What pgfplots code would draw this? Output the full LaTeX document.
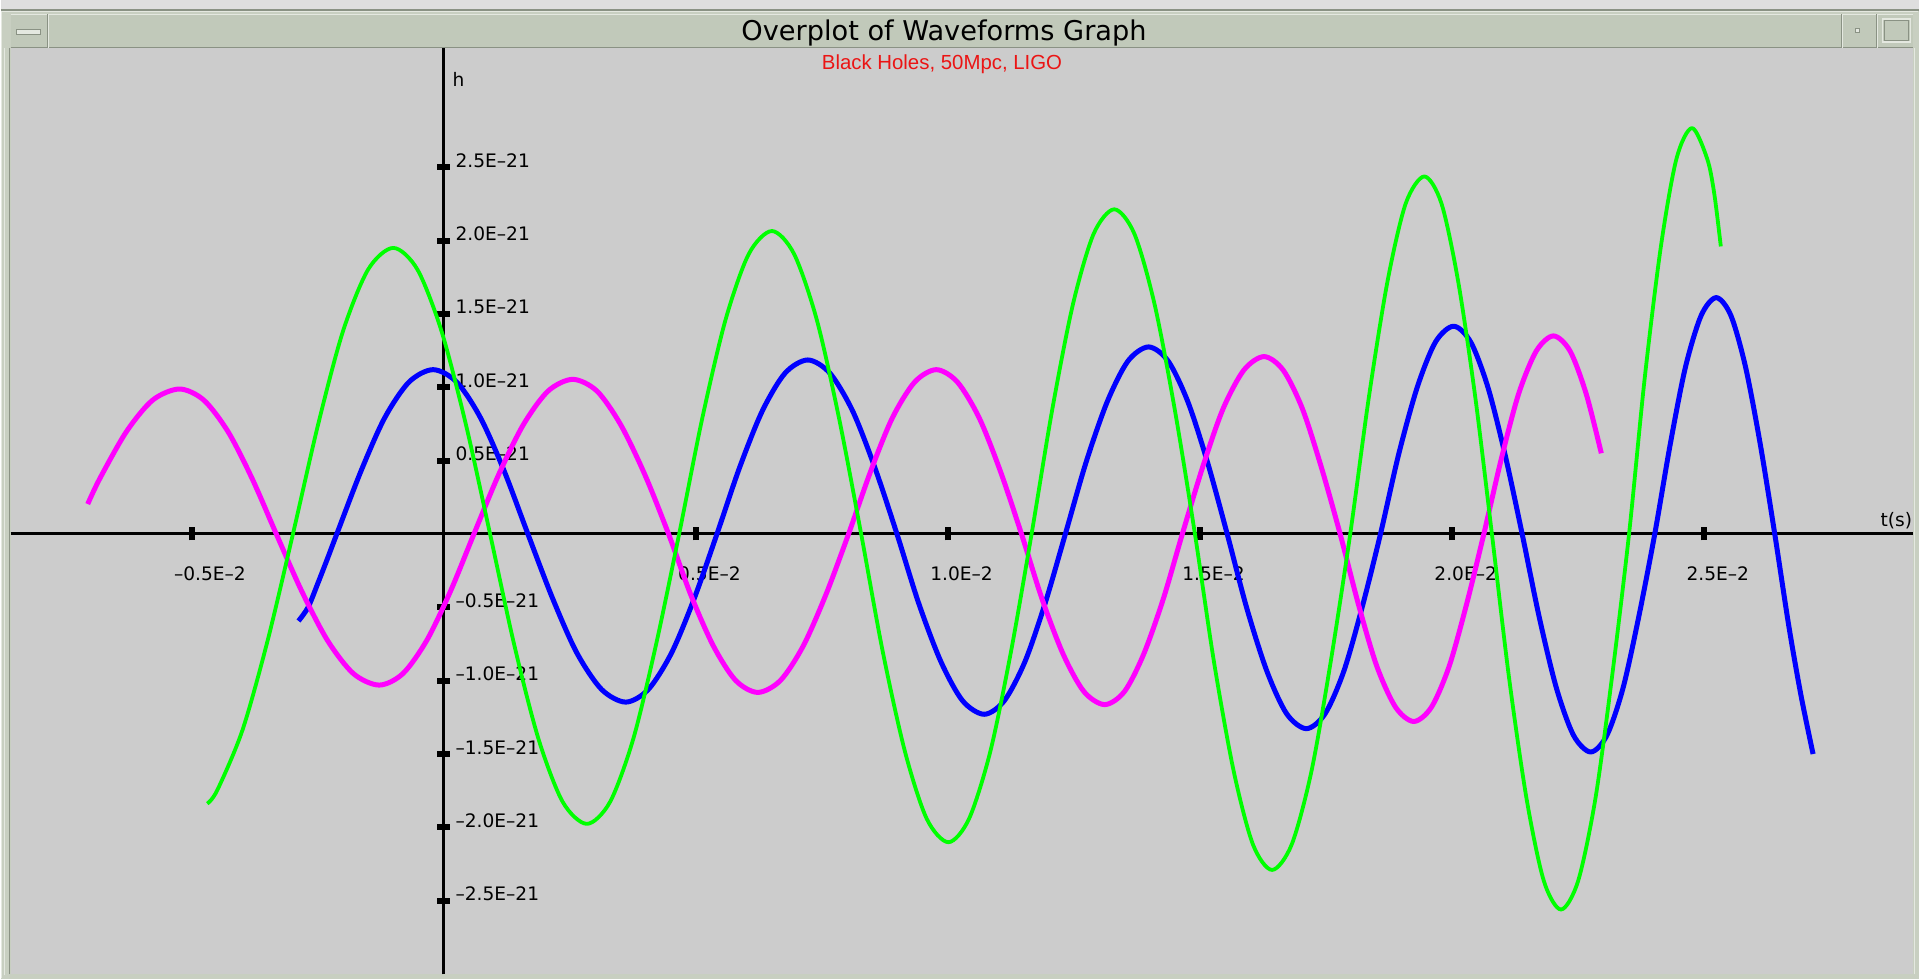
\documentclass[border=0pt]{standalone}
\usepackage{pgfplots}
\pgfplotsset{compat=1.18}
\usepackage{fontspec}
\setmainfont{DejaVu Sans}
\newfontfamily\subfont{Liberation Sans}
\definecolor{plotbg}{RGB}{204,204,204}
\definecolor{titlebg}{RGB}{193,201,186}
\definecolor{framebg}{RGB}{200,207,193}
\definecolor{framedark}{RGB}{138,146,132}
\definecolor{framelight}{RGB}{228,232,224}
\definecolor{topstrip}{RGB}{222,222,222}
\definecolor{wgreen}{RGB}{0,255,0}
\definecolor{wblue}{RGB}{0,0,255}
\definecolor{wmag}{RGB}{255,0,255}
\definecolor{subred}{RGB}{235,20,20}
\begin{document}
\begin{tikzpicture}
% ---------- window frame (picture is 960pt x 490pt) ----------
\fill[topstrip] (0pt,0pt) rectangle (960pt,490pt);
\fill[framebg] (0pt,0pt) rectangle (960pt,485pt);
\draw[framelight, line width=0.8pt] (0.5pt,0.5pt) -- (0.5pt,484.5pt) -- (959.5pt,484.5pt);
\draw[framedark, line width=0.6pt] (0pt,485pt) -- (960pt,485pt);
% title bar
\fill[titlebg] (5pt,466pt) rectangle (957pt,483pt);
\draw[framedark, line width=0.6pt] (5pt,466.3pt) -- (957pt,466.3pt);
\draw[framelight, line width=0.6pt] (5pt,482.8pt) -- (957pt,482.8pt);
% left button
\draw[framedark, line width=0.5pt] (23.5pt,466pt) -- (23.5pt,483pt);
\draw[framelight, line width=0.5pt] (24.2pt,466pt) -- (24.2pt,483pt);
\fill[framelight] (8pt,473pt) rectangle (20pt,475.5pt);
\draw[framedark, line width=0.4pt] (8pt,473pt) rectangle (20pt,475.5pt);
% right buttons
\draw[framedark, line width=0.5pt] (921pt,466pt) -- (921pt,483pt);
\draw[framelight, line width=0.5pt] (921.7pt,466pt) -- (921.7pt,483pt);
\draw[framedark, line width=0.5pt] (938.5pt,466pt) -- (938.5pt,483pt);
\draw[framelight, line width=0.5pt] (939.2pt,466pt) -- (939.2pt,483pt);
\fill[framelight] (928pt,474pt) rectangle (930pt,476pt);
\draw[framedark, line width=0.4pt] (928pt,474pt) rectangle (930pt,476pt);
\draw[framelight, line width=0.6pt] (941.5pt,469pt) rectangle (955.5pt,480.5pt);
\draw[framedark, line width=0.5pt] (942.3pt,469.8pt) rectangle (954.7pt,479.7pt);
% title
\node[anchor=base, inner sep=0pt, font=\fontsize{13.6}{16}\selectfont] at (472pt,469.5pt) {Overplot of Waveforms Graph};
% plot background
\fill[plotbg] (5pt,2.5pt) rectangle (957pt,466pt);
\draw[framelight, line width=0.5pt] (957.6pt,2.5pt) -- (957.6pt,466pt);
\draw[framedark, line width=0.5pt] (4.6pt,2.5pt) -- (4.6pt,466pt);
\draw[framelight, line width=0.6pt] (2pt,2pt) -- (2pt,466pt);
% subtitle
\node[anchor=base, inner sep=0pt, text=subred, font=\subfont\fontsize{10.2}{12}\selectfont] at (471pt,455pt) {Black Holes, 50Mpc, LIGO};

\begin{axis}[
  at={(5pt,2.5pt)}, anchor=south west,
  x=252.25pt, y=73.4pt,
  xmin=-0.859, xmax=2.915, ymin=-3.002, ymax=3.313,
  axis lines=middle,
  axis line style={-, line width=1.5pt, black},
  clip=false,
  xtick={-0.5,0.5,1,1.5,2,2.5},
  xticklabels={–0.5E–2,0.5E–2,1.0E–2,1.5E–2,2.0E–2,2.5E–2},
  ytick={-2.5,-2,-1.5,-1,-0.5,0.5,1,1.5,2,2.5},
  yticklabels={–2.5E–21,–2.0E–21,–1.5E–21,–1.0E–21,–0.5E–21,0.5E–21,1.0E–21,1.5E–21,2.0E–21,2.5E–21},
  major tick length=6.5pt,
  tick align=center,
  major tick style={line width=3pt, black},
  ticklabel style={font=\fontsize{9.3}{11}\selectfont, inner sep=0pt},
  xticklabel style={anchor=north west, xshift=-9pt, yshift=-13pt},
  yticklabel style={anchor=base west, xshift=9pt, yshift=0pt},
]
% blue
\addplot[wblue, line width=2.5pt, smooth, line join=round] coordinates {
(-0.288,-0.593) (-0.269,-0.500) (-0.250,-0.340) (-0.231,-0.172) (-0.212,0)
(-0.164,0.429) (-0.117,0.792) (-0.069,1.035) (-0.021,1.120)
(0.026,1.035) (0.073,0.792) (0.120,0.429) (0.167,0)
(0.216,-0.439) (0.264,-0.810) (0.313,-1.059) (0.361,-1.146)
(0.406,-1.059) (0.452,-0.810) (0.497,-0.439) (0.542,0)
(0.587,0.454) (0.632,0.839) (0.677,1.096) (0.722,1.186)
(0.766,1.096) (0.811,0.839) (0.855,0.454) (0.899,0)
(0.942,-0.471) (0.986,-0.869) (1.029,-1.136) (1.072,-1.229)
(1.112,-1.136) (1.153,-0.869) (1.193,-0.471) (1.233,0)
(1.274,0.488) (1.316,0.901) (1.357,1.178) (1.398,1.275)
(1.437,1.178) (1.476,0.901) (1.515,0.488) (1.554,0)
(1.593,-0.508) (1.633,-0.938) (1.672,-1.226) (1.711,-1.327)
(1.748,-1.226) (1.785,-0.938) (1.821,-0.508) (1.858,0)
(1.894,0.542) (1.931,1.001) (1.967,1.308) (2.003,1.416)
(2.037,1.308) (2.071,1.001) (2.105,0.542) (2.139,0)
(2.173,-0.569) (2.207,-1.051) (2.241,-1.373) (2.275,-1.486)
(2.307,-1.373) (2.339,-1.051) (2.370,-0.569) (2.402,0)
(2.433,0.617) (2.463,1.139) (2.494,1.489) (2.524,1.611)
(2.553,1.489) (2.582,1.139) (2.611,0.617) (2.640,0)
(2.668,-0.630) (2.692,-1.100) (2.716,-1.500)
};
% magenta
\addplot[wmag, line width=2.5pt, smooth, line join=round] coordinates {
(-0.706,0.204) (-0.682,0.378) (-0.629,0.699) (-0.577,0.913) (-0.524,0.988)
(-0.476,0.913) (-0.428,0.699) (-0.380,0.378) (-0.332,0)
(-0.281,-0.394) (-0.230,-0.728) (-0.179,-0.952) (-0.128,-1.030)
(-0.081,-0.952) (-0.034,-0.728) (0.013,-0.394) (0.060,0)
(0.109,0.404) (0.158,0.745) (0.207,0.974) (0.256,1.054)
(0.304,0.974) (0.351,0.745) (0.399,0.404) (0.446,0)
(0.490,-0.414) (0.535,-0.764) (0.579,-0.998) (0.623,-1.080)
(0.668,-0.998) (0.713,-0.764) (0.758,-0.414) (0.803,0)
(0.847,0.429) (0.890,0.792) (0.934,1.035) (0.977,1.120)
(1.019,1.035) (1.062,0.792) (1.104,0.429) (1.146,0)
(1.187,-0.445) (1.229,-0.822) (1.270,-1.075) (1.311,-1.163)
(1.350,-1.075) (1.388,-0.822) (1.427,-0.445) (1.465,0)
(1.506,0.463) (1.546,0.855) (1.587,1.117) (1.627,1.209)
(1.665,1.117) (1.703,0.855) (1.740,0.463) (1.778,0)
(1.815,-0.489) (1.851,-0.904) (1.888,-1.181) (1.924,-1.278)
(1.959,-1.181) (1.994,-0.904) (2.028,-0.489) (2.063,0)
(2.098,0.517) (2.132,0.955) (2.167,1.247) (2.201,1.350)
(2.234,1.247) (2.266,0.955) (2.296,0.550)
};
% green
\addplot[wgreen, line width=1.9pt, smooth, line join=round] coordinates {
(-0.469,-1.838) (-0.449,-1.746) (-0.399,-1.336) (-0.349,-0.724) (-0.299,0)
(-0.249,0.747) (-0.200,1.379) (-0.150,1.802) (-0.100,1.950)
(-0.052,1.802) (-0.004,1.379) (0.044,0.747) (0.092,0)
(0.140,-0.757) (0.188,-1.397) (0.236,-1.826) (0.284,-1.976)
(0.330,-1.826) (0.376,-1.397) (0.421,-0.757) (0.467,0)
(0.513,0.791) (0.559,1.460) (0.605,1.908) (0.651,2.065)
(0.695,1.908) (0.740,1.460) (0.784,0.791) (0.828,0)
(0.871,-0.805) (0.915,-1.485) (0.958,-1.941) (1.001,-2.101)
(1.042,-1.941) (1.084,-1.485) (1.125,-0.805) (1.166,0)
(1.207,0.848) (1.248,1.565) (1.289,2.045) (1.330,2.213)
(1.370,2.045) (1.410,1.565) (1.450,0.848) (1.490,0)
(1.528,-0.877) (1.567,-1.619) (1.605,-2.116) (1.643,-2.290)
(1.682,-2.116) (1.721,-1.619) (1.759,-0.877) (1.798,0)
(1.835,0.933) (1.872,1.723) (1.908,2.252) (1.945,2.437)
(1.979,2.252) (2.012,1.723) (2.046,0.933) (2.079,0)
(2.113,-0.980) (2.148,-1.810) (2.182,-2.365) (2.216,-2.560)
(2.250,-2.365) (2.284,-1.810) (2.317,-0.980) (2.351,0)
(2.382,1.060) (2.414,1.956) (2.445,2.557) (2.476,2.767)
(2.506,2.557) (2.520,2.320) (2.533,1.960)
};
\node[anchor=base west, inner sep=0pt, font=\fontsize{9.3}{11}\selectfont] at (axis cs:0.017,3.05) {h};
\node[anchor=base east, inner sep=0pt, font=\fontsize{9.3}{11}\selectfont] at (axis cs:2.913,0.05) {t(s)};
\end{axis}
\end{tikzpicture}
\end{document}
